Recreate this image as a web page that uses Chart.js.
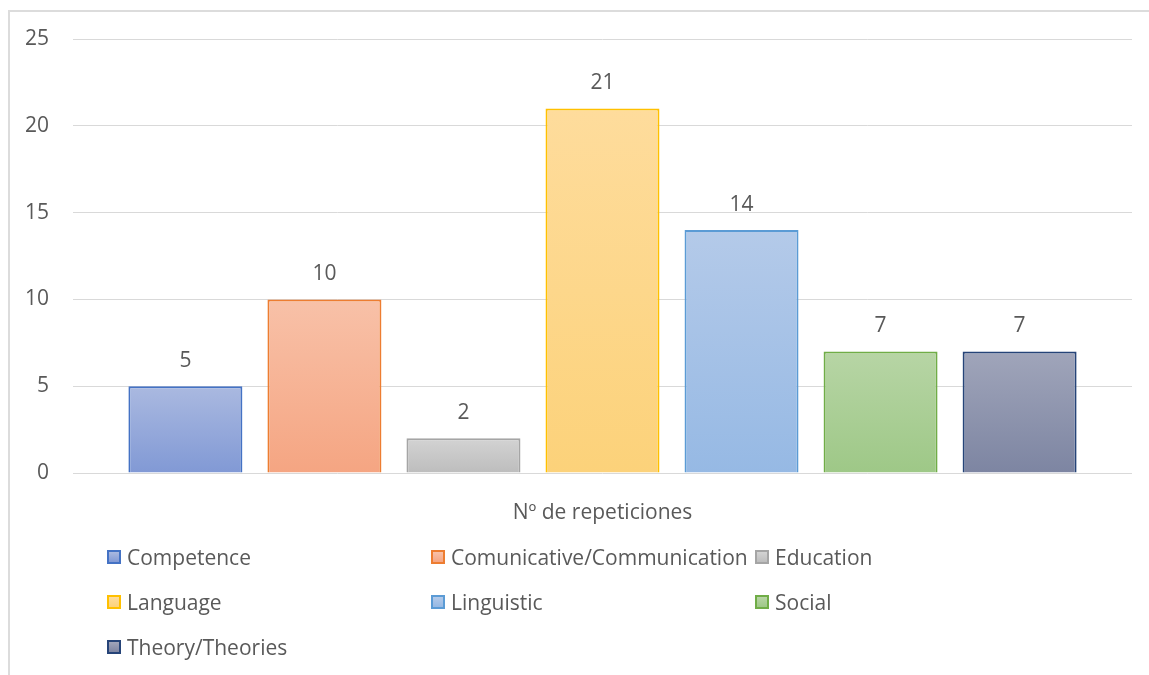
<!DOCTYPE html>
<html>
<head>
<meta charset="utf-8">
<script src="https://cdn.jsdelivr.net/npm/chart.js@4/dist/chart.umd.min.js"></script>
<style>
  html, body { margin: 0; padding: 0; background: #fff; }
  #wrap { position: relative; width: 1149px; height: 675px; overflow: hidden; font-family: "Open Sans", sans-serif; }
  #frame { position: absolute; left: 8px; top: 10px; width: 1200px; height: 700px; border-left: 2px solid #DCDCDC; border-top: 2px solid #DCDCDC; box-sizing: border-box; }
  canvas { position: absolute; left: 0; top: 0; }
  #legend { position: absolute; left: 0; top: 0; width: 1149px; height: 675px; pointer-events: none; }
  .li { position: absolute; display: flex; align-items: center; height: 30px; color: #595959; font-size: 21px; white-space: nowrap; }
  .sw { width: 10px; height: 10px; border: 2px solid; margin-right: 6px; }
</style>
</head>
<body>
<div id="wrap">
  <div id="frame"></div>
  <canvas id="c" width="1149" height="675"></canvas>
  <div id="legend"></div>
</div>
<script>
const categories = ['Nº de repeticiones'];
const seriesNames = ['Competence', 'Comunicative/Communication', 'Education', 'Language', 'Linguistic', 'Social', 'Theory/Theories'];
const seriesValues = [5, 10, 2, 21, 14, 7, 7];
const yTicks = [0, 5, 10, 15, 20, 25];

const borderColors = ['#4472C4', '#ED7D31', '#A5A5A5', '#FFC000', '#5B9BD5', '#70AD47', '#264478'];
const topColors = ['#AAB9E0', '#F8C1A8', '#D3D3D3', '#FEDC9C', '#B4CAE9', '#B7D5A5', '#A0A5BA'];
const bottomColors = ['#8199D5', '#F5A582', '#BDBDBD', '#FCD27A', '#96B9E4', '#9EC887', '#7D85A2'];

const TXT = '#595959';
const FONT = '"Open Sans", sans-serif';

function gradFor(i) {
  return (ctx) => {
    const chart = ctx.chart;
    if (!chart.chartArea || !chart.scales.y) return topColors[i];
    const ys = chart.scales.y;
    const v = chart.data.datasets[ctx.datasetIndex].data[ctx.dataIndex] ?? 0;
    const yTop = ys.getPixelForValue(v);
    const yBase = ys.getPixelForValue(0);
    if (!isFinite(yTop) || !isFinite(yBase) || yTop === yBase) return topColors[i];
    const g = chart.ctx.createLinearGradient(0, yTop, 0, yBase);
    g.addColorStop(0, topColors[i]);
    g.addColorStop(1, bottomColors[i]);
    return g;
  };
}

const datasets = seriesNames.map((name, i) => ({
  label: name,
  data: [seriesValues[i]],
  backgroundColor: gradFor(i),
  borderColor: borderColors[i],
  borderWidth: 2,
  borderSkipped: 'start',
  categoryPercentage: 0.919,
  barPercentage: 0.82
}));

const labelPlugin = {
  id: 'valueLabels',
  afterDatasetsDraw(chart) {
    const c = chart.ctx;
    c.save();
    c.fillStyle = TXT;
    c.font = '21px ' + FONT;
    c.textAlign = 'center';
    c.textBaseline = 'middle';
    chart.data.datasets.forEach((ds, di) => {
      const meta = chart.getDatasetMeta(di);
      meta.data.forEach((el, j) => {
        c.fillText(String(ds.data[j]), el.x, el.y - 25);
      });
    });
    c.restore();
  }
};

const chart = new Chart(document.getElementById('c'), {
  type: 'bar',
  data: { labels: categories, datasets },
  options: {
    responsive: false,
    animation: false,
    layout: { padding: { left: 0, top: 39, right: 17, bottom: 0 } },
    plugins: {
      legend: { display: false },
      tooltip: { enabled: false }
    },
    scales: {
      x: {
        grid: { display: false },
        border: { display: false },
        ticks: { color: TXT, font: { family: FONT, size: 21 }, padding: 19 },
        afterFit: (s) => { s.height = 202; }
      },
      y: {
        min: 0,
        max: 25,
        afterBuildTicks: (s) => { s.ticks = yTicks.map(v => ({ value: v })); },
        grid: { color: '#D9D9D9', lineWidth: 1, drawTicks: false },
        border: { display: false },
        ticks: { color: TXT, font: { family: FONT, size: 21 }, padding: 24 },
        afterFit: (s) => { s.width = 73; }
      }
    }
  },
  plugins: [labelPlugin]
});

// HTML legend built from the chart's datasets (3 columns, Excel-like)
const legendEl = document.getElementById('legend');
chart.data.datasets.forEach((ds, i) => {
  const col = i % 3, row = Math.floor(i / 3);
  const item = document.createElement('div');
  item.className = 'li';
  item.style.left = (107 + col * 324) + 'px';
  item.style.top = (557 + row * 45 - 15) + 'px';
  const sw = document.createElement('span');
  sw.className = 'sw';
  sw.style.borderColor = borderColors[i];
  sw.style.background = 'linear-gradient(' + topColors[i] + ',' + bottomColors[i] + ')';
  const tx = document.createElement('span');
  tx.textContent = ds.label;
  item.appendChild(sw);
  item.appendChild(tx);
  legendEl.appendChild(item);
});
</script>
</body>
</html>
